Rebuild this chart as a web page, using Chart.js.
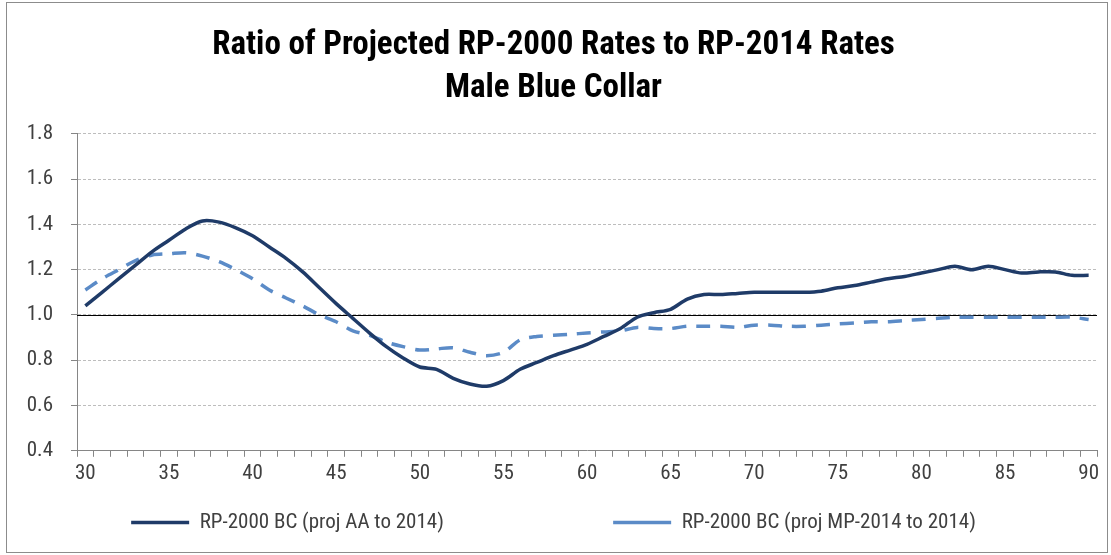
<!DOCTYPE html>
<html>
<head>
<meta charset="utf-8">
<script src="https://cdn.jsdelivr.net/npm/chart.js@4"></script>
<style>
  html, body { margin: 0; padding: 0; background: #fff; }
  #wrap { width: 1111px; height: 555px; }
</style>
</head>
<body>
<div id="wrap"><canvas id="myChart" width="1111" height="555"></canvas></div>
<script>
const ages = [];
for (let a = 30; a <= 90; a++) ages.push(a);

const projAA = [
  1.04, 1.10, 1.16, 1.22, 1.28, 1.33, 1.38, 1.415, 1.41, 1.385,
  1.35, 1.30, 1.25, 1.19, 1.12, 1.05, 0.985, 0.92, 0.86, 0.81,
  0.77, 0.76, 0.72, 0.695, 0.685, 0.71, 0.76, 0.79, 0.82, 0.845,
  0.87, 0.905, 0.94, 0.99, 1.01, 1.025, 1.07, 1.09, 1.09, 1.095,
  1.10, 1.10, 1.10, 1.10, 1.105, 1.12, 1.13, 1.145, 1.16, 1.17,
  1.185, 1.20, 1.215, 1.20, 1.215, 1.20, 1.185, 1.19, 1.19, 1.175,
  1.175
];
const projMP = [
  1.11, 1.16, 1.20, 1.24, 1.265, 1.27, 1.275, 1.26, 1.235, 1.20,
  1.16, 1.11, 1.075, 1.04, 1.00, 0.97, 0.93, 0.91, 0.88, 0.86,
  0.845, 0.85, 0.855, 0.835, 0.82, 0.835, 0.89, 0.905, 0.91, 0.915,
  0.92, 0.925, 0.93, 0.945, 0.94, 0.94, 0.95, 0.95, 0.95, 0.945,
  0.955, 0.955, 0.95, 0.95, 0.955, 0.96, 0.965, 0.97, 0.97, 0.975,
  0.98, 0.985, 0.99, 0.99, 0.99, 0.99, 0.99, 0.99, 0.99, 0.99,
  0.98
];
const yTicks = [0.4, 0.6, 0.8, 1.0, 1.2, 1.4, 1.6, 1.8];
const titleLines = ["Ratio of Projected RP-2000 Rates to RP-2014 Rates", "Male Blue Collar"];
const seriesNames = ["RP-2000 BC (proj AA to 2014)", "RP-2000 BC (proj MP-2014 to 2014)"];

const FONT = "'Liberation Sans Narrow', 'Roboto Condensed', Lato, sans-serif";

// solid black line at 1.0 + outer frame
const extras = {
  id: "extras",
  beforeDatasetsDraw(chart) {
    const { ctx, chartArea, scales } = chart;
    const y = Math.round(scales.y.getPixelForValue(1.0)) + 0.5;
    ctx.save();
    ctx.strokeStyle = "#000";
    ctx.lineWidth = 1;
    ctx.beginPath();
    ctx.moveTo(chartArea.left, y);
    ctx.lineTo(chartArea.right, y);
    ctx.stroke();
    ctx.restore();
  },
  afterDraw(chart) {
    const ctx = chart.ctx;
    ctx.save();
    ctx.strokeStyle = "#8c8c8c";
    ctx.lineWidth = 1;
    ctx.strokeRect(6.5, 2.5, 1101, 550);
    ctx.restore();
  }
};

new Chart(document.getElementById("myChart"), {
  type: "line",
  data: {
    labels: ages,
    datasets: [
      {
        label: seriesNames[0],
        data: projAA,
        borderColor: "#1f3b68",
        backgroundColor: "#1f3b68",
        borderWidth: 3.5,
        pointRadius: 0,
        pointStyle: "line",
        tension: 0.3,
      },
      {
        label: seriesNames[1],
        data: projMP,
        borderColor: "#5b8bc7",
        backgroundColor: "#5b8bc7",
        borderWidth: 3.5,
        borderDash: [14, 10],
        pointRadius: 0,
        pointStyle: "line",
        tension: 0.3,
      },
    ],
  },
  options: {
    responsive: false,
    animation: false,
    layout: { padding: { left: 10, right: 14, top: 24, bottom: 12 } },
    scales: {
      x: {
        type: "category",
        offset: true,
        grid: {
          offset: true,
          drawOnChartArea: false,
          drawTicks: true,
          tickLength: 6,
          color: "#868686",
        },
        border: { color: "#868686", width: 1 },
        ticks: {
          autoSkip: false,
          maxRotation: 0,
          padding: 4,
          color: "#404040",
          font: { family: FONT, size: 21 },
          callback: (v, i) => (ages[i] % 5 === 0 ? String(ages[i]) : ""),
        },
      },
      y: {
        min: 0.4,
        max: 1.8,
        afterBuildTicks: (s) => { s.ticks = yTicks.map((v) => ({ value: v })); },
        afterFit: (s) => { s.width = 67; },
        grid: {
          color: "#bdbdbd",
          tickColor: "#868686",
          tickLength: 6,
        },
        border: { color: "#868686", width: 1, dash: [3, 2] },
        ticks: {
          padding: 18,
          color: "#404040",
          font: { family: FONT, size: 21 },
          callback: (v) => Number(v).toFixed(1),
        },
      },
    },
    plugins: {
      title: {
        display: true,
        text: titleLines,
        color: "#000",
        font: { family: FONT, size: 33, weight: "bold", lineHeight: 1.3 },
        padding: { top: 0, bottom: 24 },
      },
      legend: {
        position: "bottom",
        labels: {
          usePointStyle: true,
          pointStyleWidth: 58,
          boxHeight: 10,
          padding: 22,
          color: "#404040",
          font: { family: FONT, size: 21 },
          generateLabels: (chart) => {
            const items = Chart.defaults.plugins.legend.labels.generateLabels(chart);
            // wide gap between the two entries, as in the original
            items[0].text = items[0].text + "\u2003".repeat(8);
            return items;
          },
        },
      },
      tooltip: { enabled: false },
    },
  },
  plugins: [extras],
});
</script>
</body>
</html>
